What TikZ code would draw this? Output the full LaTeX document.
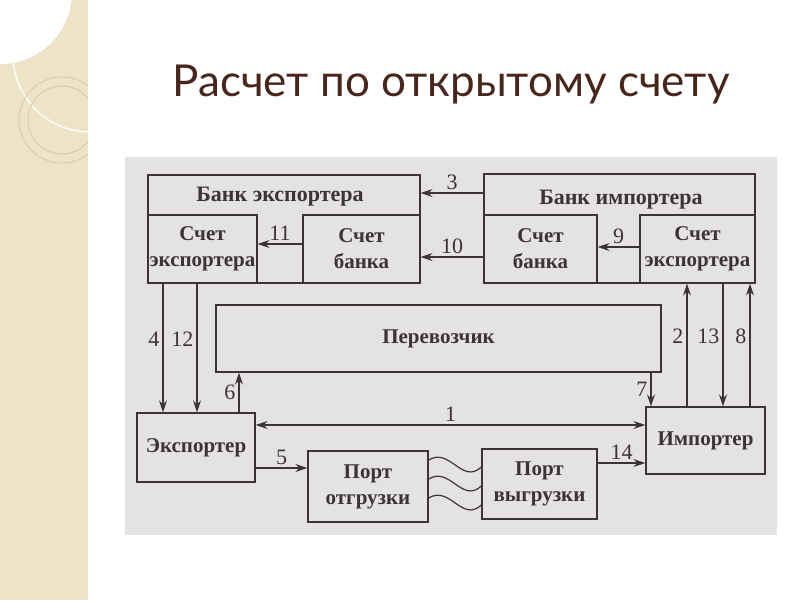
\documentclass[tikz,border=0pt]{standalone}
\usepackage{fontspec}
\setmainfont{Liberation Serif}
\newfontfamily\titlefont{Lato}
\usepackage{tikz}
\usetikzlibrary{arrows.meta}
\definecolor{strip}{RGB}{237,228,200}
\definecolor{ring}{RGB}{214,200,165}
\definecolor{photo}{RGB}{229,226,227}
\definecolor{ink}{RGB}{58,52,52}
\definecolor{titlebrown}{RGB}{72,38,28}

\begin{document}
\begin{tikzpicture}[x=1pt, y=-1pt,
  box/.style={draw=ink, line width=1.3pt, inner sep=0pt, align=center, text=ink, font=\bfseries\fontsize{21}{26}\selectfont},
  head/.style={text=ink, inner sep=0pt, font=\bfseries\fontsize{22}{26}\selectfont},
  num/.style={text=ink, inner sep=3pt, font=\fontsize{22}{24}\selectfont},
  flow/.style={draw=ink, line width=1.2pt, -{Stealth[length=12pt,width=8pt]}},
  both/.style={draw=ink, line width=1.2pt, {Stealth[length=12pt,width=8pt]}-{Stealth[length=12pt,width=8pt]}},
  wave/.style={draw=ink, line width=1.2pt}]

\fill[white] (0,0) rectangle (800,600);
\fill[strip] (0,0) rectangle (88,600);
\begin{scope}
\clip (0,0) rectangle (88,600);
\fill[white] (0,-8) circle (72);
\draw[white, line width=1.2pt] (90,55) circle (77);
\draw[ring, line width=0.8pt] (62,120) circle (43);
\draw[ring, line width=0.8pt] (62,120) circle (34);
\end{scope}
\fill[photo] (125,157) rectangle (777,535);

\node[text=titlebrown, anchor=base, inner sep=0pt, font=\titlefont\fontsize{44}{48}\selectfont] (title) at (451,96) {Расчет по открытому счету};

% banks
\node[box, minimum width=272, minimum height=108] (bexp) at (284,229) {};
\node[head] (bexpt) at (280,197) {Банк экспортера};
\node[box, minimum width=109, minimum height=68] (sexp) at (202.5,249) {Счет\\экспортера};
\node[box, minimum width=117, minimum height=68] (sbank) at (361.5,249) {Счет\\банка};

\node[box, minimum width=271, minimum height=109] (bimp) at (619.5,228.5) {};
\node[head] (bimpt) at (621,200) {Банк импортера};
\node[box, minimum width=113, minimum height=68] (sbimp) at (540.5,249) {Счет\\банка};
\node[box, minimum width=115, minimum height=68] (seimp) at (697.5,249) {Счет\\экспортера};

% parties
\node[box, minimum width=445, minimum height=67] (carrier) at (438.5,338.5) {Перевозчик};
\node[box, minimum width=118, minimum height=69] (exporter) at (196,447.5) {Экспортер};
\node[box, minimum width=119, minimum height=67] (importer) at (705.5,440.5) {Импортер};
\node[box, minimum width=120, minimum height=71] (portout) at (368,486.5) {Порт\\отгрузки};
\node[box, minimum width=115, minimum height=70] (portin) at (539.5,484) {Порт\\выгрузки};

\draw[flow] (bimp.west |- 0,193) -- (bexp.east |- 0,193) node[num, midway, above] {3};
\draw[flow] (sbimp.west |- 0,257) -- (sbank.east |- 0,257) node[num, midway, above] {10};
\draw[flow] (sbank.west |- 0,244) -- (sexp.east |- 0,244) node[num, midway, above] {11};
\draw[flow] (seimp.west |- 0,247) -- (sbimp.east |- 0,247) node[num, midway, above] {9};

\draw[flow] (sexp.south -| 163,0) -- (exporter.north -| 163,0) node[num, pos=0.43, left] {4};
\draw[flow] (sexp.south -| 197,0) -- (exporter.north -| 197,0) node[num, pos=0.43, left] {12};
\draw[flow] (exporter.north -| 239,0) -- (carrier.south -| 239,0) node[num, midway, left] {6};
\draw[flow] (carrier.south -| 651,0) -- (importer.north -| 651,0) node[num, midway, left] {7};
\draw[flow] (importer.north -| 687,0) -- (seimp.south -| 687,0) node[num, pos=0.57, left] {2};
\draw[flow] (seimp.south -| 723,0) -- (importer.north -| 723,0) node[num, pos=0.43, left] {13};
\draw[flow] (importer.north -| 750,0) -- (seimp.south -| 750,0) node[num, pos=0.57, left] {8};

\draw[both] (exporter.east |- 0,425) -- (importer.west |- 0,425) node[num, midway, above] {1};
\draw[flow] (exporter.east |- 0,468) -- (portout.west |- 0,468) node[num, midway, above] {5};
\draw[flow] (portin.east |- 0,463) -- (importer.west |- 0,463) node[num, midway, above] {14};

\draw[wave] (portout.east |- 0,460) .. controls (450,447) and (462,485) .. (portin.west |- 0,467);
\draw[wave] (portout.east |- 0,479) .. controls (450,466) and (462,504) .. (portin.west |- 0,486);
\draw[wave] (portout.east |- 0,498) .. controls (450,485) and (462,523) .. (portin.west |- 0,505);
\end{tikzpicture}
\end{document}
